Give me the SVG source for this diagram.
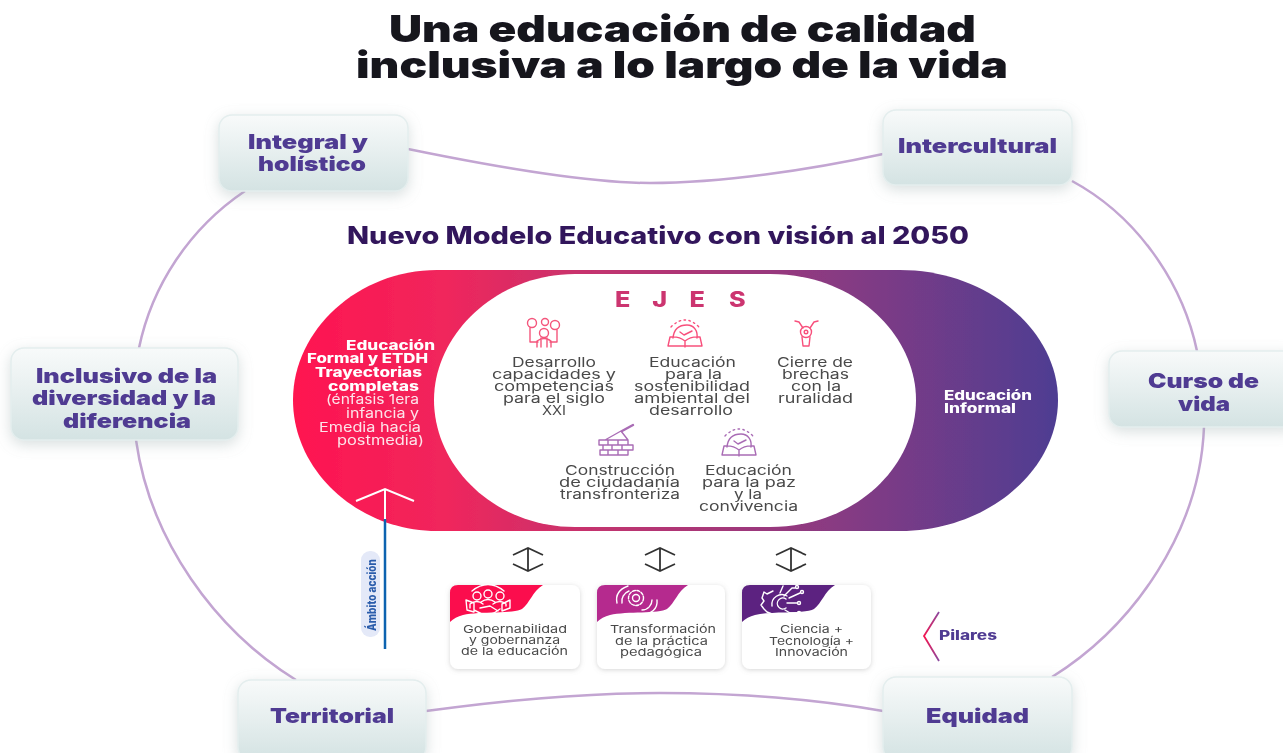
<svg xmlns="http://www.w3.org/2000/svg" width="1283" height="753" viewBox="0 0 1283 753">
<style>
text{font-family:"Inter","Liberation Sans",sans-serif}
.t{font-size:37px;font-weight:900;fill:#14121f}
.s{font-size:24px;font-weight:800;fill:#33175b}
.n{font-size:20px;font-weight:900;fill:#4f3a92}
.b{font-size:13px;font-weight:800;fill:#fff}
.w{font-size:13px;font-weight:400;fill:#fde4ea}
.g{font-size:13px;font-weight:400;fill:#4a4a4a}
.c{font-size:11px;font-weight:400;fill:#4a4a4a}
.node{fill:url(#ng);stroke:#e4eeee;stroke-width:1.5;filter:url(#sh)}
.link{fill:none;stroke:#c3a5d2;stroke-width:2.5}
.ar{fill:none;stroke:#333;stroke-width:1.8}
.ic{fill:none;stroke-width:1.4;stroke-linejoin:round;stroke-linecap:round}
.card{fill:#fff;filter:url(#cs)}
</style>
<defs>
<linearGradient id="ng" x1="0" y1="0" x2="0" y2="1"><stop offset="0" stop-color="#f8fafa"/><stop offset="1" stop-color="#d4e3e3"/></linearGradient>
<linearGradient id="pg" gradientUnits="userSpaceOnUse" x1="293" y1="0" x2="1058" y2="0"><stop offset="0" stop-color="#ff1450"/><stop offset=".2" stop-color="#f0265c"/><stop offset=".4" stop-color="#c2346f"/><stop offset=".7" stop-color="#8a3a82"/><stop offset="1" stop-color="#4e3d92"/></linearGradient>
<linearGradient id="ej" gradientUnits="userSpaceOnUse" x1="600" y1="0" x2="760" y2="0"><stop offset="0" stop-color="#cc3570"/><stop offset="1" stop-color="#9a2f7e"/></linearGradient>
<linearGradient id="pc" x1="0" y1="0" x2="0" y2="1"><stop offset="0" stop-color="#8a4aa0"/><stop offset=".5" stop-color="#f5144e"/><stop offset="1" stop-color="#8a4aa0"/></linearGradient>
<filter id="sh" x="-20%" y="-25%" width="140%" height="155%"><feDropShadow dx="0" dy="4" stdDeviation="7" flood-color="#9fb0b0" flood-opacity=".4"/></filter>
<filter id="cs" x="-10%" y="-10%" width="120%" height="120%"><feDropShadow dx="0" dy="1" stdDeviation="2.5" flood-color="#999" flood-opacity=".4"/></filter>
<filter id="soft" filterUnits="userSpaceOnUse" x="0" y="0" width="1283" height="753"><feGaussianBlur stdDeviation="0.45"/></filter>
</defs>
<rect width="1283" height="753" fill="#fff"/>
<g filter="url(#soft)">
<text class="t" x="389" y="42" textLength="587" lengthAdjust="spacingAndGlyphs">Una educación de calidad</text>
<text class="t" x="356" y="78" textLength="652" lengthAdjust="spacingAndGlyphs">inclusiva a lo largo de la vida</text>
<text class="s" x="347" y="244" textLength="622" lengthAdjust="spacingAndGlyphs">Nuevo Modelo Educativo con visión al 2050</text>

<g id="connectors">
<path class="link" d="M408 149C520 172 600 183 650 183C720 183 810 170 883 154"/>
<path class="link" d="M245 191C190 228 152 285 139 348"/>
<path class="link" d="M1072 181C1135 215 1182 280 1197 351"/>
<path class="link" d="M136 440C150 540 215 630 296 680"/>
<path class="link" d="M1204 427C1200 530 1135 625 1052 677"/>
<path class="link" d="M426 711C520 698 600 693 660 693C740 693 820 700 883 711"/>
</g>

<g id="integral"><rect class="node" x="219" y="115" width="189" height="76" rx="13"/>
<text class="n" x="248" y="149" textLength="120" lengthAdjust="spacingAndGlyphs">Integral y</text>
<text class="n" x="258" y="171" textLength="108" lengthAdjust="spacingAndGlyphs">holístico</text></g>
<g id="intercultural"><rect class="node" x="883" y="110" width="189" height="75" rx="13"/>
<text class="n" x="898" y="153" textLength="159" lengthAdjust="spacingAndGlyphs">Intercultural</text></g>
<g id="inclusivo"><rect class="node" x="11" y="348" width="227" height="92" rx="13"/>
<text class="n" x="36" y="383" textLength="181" lengthAdjust="spacingAndGlyphs">Inclusivo de la</text>
<text class="n" x="32" y="405" textLength="184" lengthAdjust="spacingAndGlyphs">diversidad y la</text>
<text class="n" x="63" y="428" textLength="128" lengthAdjust="spacingAndGlyphs">diferencia</text></g>
<g id="curso"><rect class="node" x="1109" y="351" width="190" height="76" rx="13"/>
<text class="n" x="1148" y="388" textLength="111" lengthAdjust="spacingAndGlyphs">Curso de</text>
<text class="n" x="1178" y="411" textLength="52" lengthAdjust="spacingAndGlyphs">vida</text></g>
<g id="territorial"><rect class="node" x="238" y="680" width="188" height="80" rx="13"/>
<text class="n" x="270" y="723" textLength="124" lengthAdjust="spacingAndGlyphs">Territorial</text></g>
<g id="equidad"><rect class="node" x="883" y="677" width="189" height="83" rx="13"/>
<text class="n" x="926" y="723" textLength="103" lengthAdjust="spacingAndGlyphs">Equidad</text></g>

<g id="modelo">
<path fill="url(#pg)" d="M437 270H900C987 270 1058 330 1058 400C1058 471 987 531 900 531H437C358 531 293 471 293 400C293 330 358 270 437 270Z"/>
<path fill="#fff" d="M575 274H770C855 274 916 335 916 400C916 467 855 527 770 527H575C495 527 434 467 434 400C434 335 495 274 575 274Z"/>
<g id="ejes"><text transform="translate(615 307) scale(1.2 1)" x="0 15 31 46 62 78 95" y="0" font-size="21" font-weight="800" fill="url(#ej)">E J E S</text></g>
<g id="formal">
<text class="b" x="346" y="350" textLength="89" lengthAdjust="spacingAndGlyphs">Educación</text>
<text class="b" x="307" y="363" textLength="121" lengthAdjust="spacingAndGlyphs">Formal y ETDH</text>
<text class="b" x="315" y="377" textLength="107" lengthAdjust="spacingAndGlyphs">Trayectorias</text>
<text class="b" x="328" y="391" textLength="91" lengthAdjust="spacingAndGlyphs">completas</text>
<text class="w" x="326" y="404" textLength="93" lengthAdjust="spacingAndGlyphs">(énfasis 1era</text>
<text class="w" x="346" y="418" textLength="73" lengthAdjust="spacingAndGlyphs">infancia y</text>
<text class="w" x="319" y="432" textLength="102" lengthAdjust="spacingAndGlyphs">Emedia hacia</text>
<text class="w" x="337" y="445" textLength="87" lengthAdjust="spacingAndGlyphs">postmedia)</text>
</g>
<g id="informal">
<text class="b" x="944" y="400" textLength="88" lengthAdjust="spacingAndGlyphs">Educación</text>
<text class="b" x="944" y="413" textLength="72" lengthAdjust="spacingAndGlyphs">Informal</text>
</g>
</g>

<g id="eje1">
<g class="ic" stroke="#f4567c"><circle cx="532" cy="323" r="4.500"/><circle cx="545" cy="322" r="3.500"/><circle cx="555" cy="325" r="4.500"/><circle cx="544" cy="333" r="4.500"/><path d="M530 328V342H538M557 330V342H550M537 347V341Q544 336 551 341V347M541 338V347M547 338V347"/></g>
<text class="g" x="512" y="367" textLength="84" lengthAdjust="spacingAndGlyphs">Desarrollo</text>
<text class="g" x="492" y="379" textLength="124" lengthAdjust="spacingAndGlyphs">capacidades y</text>
<text class="g" x="494" y="391" textLength="120" lengthAdjust="spacingAndGlyphs">competencias</text>
<text class="g" x="503" y="403" textLength="102" lengthAdjust="spacingAndGlyphs">para el siglo</text>
<text class="g" x="542" y="415" textLength="24" lengthAdjust="spacingAndGlyphs">XXI</text>
</g>
<g id="eje2">
<g class="ic" stroke="#f8507c"><path d="M673 338C674 328 680 325 687 325C694 325 698 331 697 338M668 346L670 337Q679 336 685 341Q691 336 700 337L702 346H668ZM685 341V347M680 332L684 335L692 331"/><path stroke-dasharray="1.500 3.500" d="M671 327Q685 313 699 327"/></g>
<text class="g" x="649" y="367" textLength="87" lengthAdjust="spacingAndGlyphs">Educación</text>
<text class="g" x="665" y="379" textLength="57" lengthAdjust="spacingAndGlyphs">para la</text>
<text class="g" x="634" y="391" textLength="116" lengthAdjust="spacingAndGlyphs">sostenibilidad</text>
<text class="g" x="634" y="403" textLength="116" lengthAdjust="spacingAndGlyphs">ambiental del</text>
<text class="g" x="649" y="415" textLength="84" lengthAdjust="spacingAndGlyphs">desarrollo</text>
</g>
<g id="eje3">
<g class="ic" stroke="#f8507c"><path d="M795 321L799 322L803 328M818 321L814 322L810 328M802 337L803 346H809L810 337"/><circle cx="806" cy="332" r="5.500"/><circle cx="806" cy="332" r="1.800"/></g>
<text class="g" x="777" y="367" textLength="76" lengthAdjust="spacingAndGlyphs">Cierre de</text>
<text class="g" x="782" y="379" textLength="67" lengthAdjust="spacingAndGlyphs">brechas</text>
<text class="g" x="791" y="391" textLength="50" lengthAdjust="spacingAndGlyphs">con la</text>
<text class="g" x="778" y="403" textLength="75" lengthAdjust="spacingAndGlyphs">ruralidad</text>
</g>
<g id="eje4">
<g class="ic" stroke="#a96cb5"><path d="M599 440H628V445H599ZM603 445H633V450H603ZM600 450H628V455H600ZM608 440V445M618 440V445M612 445V450M622 445V450M608 450V455M618 450V455M605 440L621 431L628 440"/><path stroke-width="2.400" d="M622 431L633 425"/></g>
<text class="g" x="565" y="475" textLength="110" lengthAdjust="spacingAndGlyphs">Construcción</text>
<text class="g" x="559" y="487" textLength="121" lengthAdjust="spacingAndGlyphs">de ciudadanía</text>
<text class="g" x="560" y="499" textLength="120" lengthAdjust="spacingAndGlyphs">transfronteriza</text>
</g>
<g id="eje5">
<g class="ic" stroke="#a96cb5"><path d="M727 447C728 437 734 434 741 434C748 434 752 440 751 447M722 455L724 446Q733 445 739 450Q745 445 754 446L756 455H722ZM739 450V456M734 441L738 444L746 440"/><path stroke-dasharray="1.500 3.500" d="M725 436Q739 422 753 436"/></g>
<text class="g" x="705" y="475" textLength="87" lengthAdjust="spacingAndGlyphs">Educación</text>
<text class="g" x="702" y="487" textLength="94" lengthAdjust="spacingAndGlyphs">para la paz</text>
<text class="g" x="734" y="499" textLength="28" lengthAdjust="spacingAndGlyphs">y la</text>
<text class="g" x="699" y="511" textLength="99" lengthAdjust="spacingAndGlyphs">convivencia</text>
</g>

<g id="ambito">
<rect x="361" y="551" width="19" height="86" rx="9" fill="#e4e9f8"/>
<text transform="translate(375.500 631) rotate(-90)" font-size="11.500" font-weight="800" fill="#2a5cab" textLength="72" lengthAdjust="spacingAndGlyphs">Ámbito acción</text>
<path d="M385 519V649" stroke="#0a64b0" stroke-width="2.500" fill="none"/>
<path d="M385 519V490M356 501L385 489L414 501" stroke="#fff" stroke-width="2" fill="none"/>
</g>

<g id="flechas" class="ar">
<path class="ar" d="M513 555L528 548L543 555M528 548V571M513 564L528 571L543 564"/>
<path class="ar" d="M645 555L660 548L675 555M660 548V571M645 564L660 571L675 564"/>
<path class="ar" d="M776 555L791 548L806 555M791 548V571M776 564L791 571L806 564"/>
</g>

<g id="pilar1">
<rect class="card" x="450" y="585" width="130" height="84" rx="8"/>
<path fill="#fb0b4e" d="M450 622V593Q450 585 458 585H543C532 592 530 603 522 609C514 614 480 611 463 615Q455 617 450 622Z"/>
<g class="ic" stroke="#fff" stroke-width="1.100"><circle cx="477" cy="596" r="4"/><circle cx="488" cy="594" r="4"/><circle cx="500" cy="596" r="4"/><path d="M470 608V604Q477 599 483 604M481 602Q488 597 495 602M493 604Q500 599 506 604V606M472 591Q488 578 504 591M466 600L474 603V612L467 610ZM510 600L502 604V611L510 608ZM474 610L486 616L494 613L500 609M480 608L490 606L498 611"/></g>
<text class="c" x="463" y="633" textLength="104" lengthAdjust="spacingAndGlyphs">Gobernabilidad</text>
<text class="c" x="469" y="644" textLength="91" lengthAdjust="spacingAndGlyphs">y gobernanza</text>
<text class="c" x="461" y="655" textLength="107" lengthAdjust="spacingAndGlyphs">de la educación</text>
</g>
<g id="pilar2">
<rect class="card" x="597" y="585" width="128" height="84" rx="8"/>
<path fill="#b52a8e" d="M597 622V593Q597 585 605 585H688C677 592 675 603 667 609C659 614 627 611 610 615Q602 617 597 622Z"/>
<g class="ic" stroke="#fff" stroke-width="1.200"><circle cx="636" cy="598" r="3.500"/><circle cx="636" cy="598" r="7.500" stroke-dasharray="3 1.500"/><path d="M617 603C615 594 620 589 628 586M622 603C621 598 624 593 629 591M657 600C658 609 651 614 642 615M652 600C652 605 648 610 642 610"/></g>
<text class="c" x="610" y="633" textLength="106" lengthAdjust="spacingAndGlyphs">Transformación</text>
<text class="c" x="615" y="645" textLength="93" lengthAdjust="spacingAndGlyphs">de la práctica</text>
<text class="c" x="620" y="656" textLength="82" lengthAdjust="spacingAndGlyphs">pedagógica</text>
</g>
<g id="pilar3">
<rect class="card" x="742" y="585" width="129" height="84" rx="8"/>
<path fill="#5c2280" d="M742 622V593Q742 585 750 585H835C824 592 822 603 814 609C806 614 772 611 755 615Q747 617 742 622Z"/>
<g class="ic" stroke="#fff" stroke-width="1.100"><path d="M773 591L767 594L764 592L762 598L764 601L761 605L764 609L767 612L772 614M787 596A10 10 0 0 0 772 606M786 599A5.500 5.500 0 1 0 786 608M780 593L783 586M784 596L792 588H795M789 598L800 593M787 603H797M785 610L790 613H797"/><circle cx="797" cy="587" r="1.500"/><circle cx="802" cy="592" r="1.500"/><circle cx="799" cy="603" r="1.500"/><circle cx="799" cy="613" r="1.500"/></g>
<text class="c" x="780" y="633" textLength="63" lengthAdjust="spacingAndGlyphs">Ciencia +</text>
<text class="c" x="769" y="645" textLength="85" lengthAdjust="spacingAndGlyphs">Tecnología +</text>
<text class="c" x="775" y="656" textLength="73" lengthAdjust="spacingAndGlyphs">Innovación</text>
</g>
<g id="pilares">
<path d="M939 612L924 636L939 661" fill="none" stroke="url(#pc)" stroke-width="1.800"/>
<text x="939" y="640" font-size="13" font-weight="800" fill="#4f3a92" textLength="58" lengthAdjust="spacingAndGlyphs">Pilares</text>
</g>
</g>
</svg>
